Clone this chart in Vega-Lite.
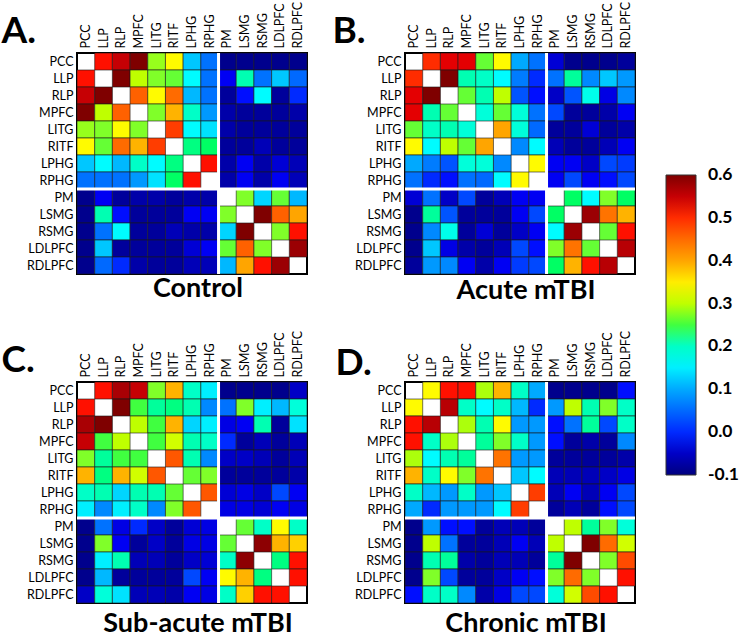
{
"$schema": "https://vega.github.io/schema/vega-lite/v6.json",
"padding": {"left": 0, "top": 0, "right": 0, "bottom": 0},
"background": "white",
"config": {
  "view": {"stroke": "black", "strokeWidth": 2},
  "axis": {"labelFont": "Lato", "labelFontSize": 12.5, "labelColor": "black", "ticks": false, "domain": false, "grid": false, "labelPadding": 4},
  "legend": {"gradientVerticalMaxLength": 300, "gradientVerticalMinLength": 300}
},
"spacing": {"column": 21, "row": 24},
"columns": 2,
"datasets": {
"m": [
{"p":"A","r":"PCC","c":"LLP","v":0.51},{"p":"A","r":"PCC","c":"RLP","v":0.55},{"p":"A","r":"PCC","c":"MPFC","v":0.6},{"p":"A","r":"PCC","c":"LITG","v":0.28},{"p":"A","r":"PCC","c":"RITF","v":0.34},{"p":"A","r":"PCC","c":"LPHG","v":0.12},{"p":"A","r":"PCC","c":"RPHG","v":0.06},{"p":"A","r":"PCC","c":"PM","v":-0.09},{"p":"A","r":"PCC","c":"LSMG","v":-0.09},{"p":"A","r":"PCC","c":"RSMG","v":-0.09},{"p":"A","r":"PCC","c":"LDLPFC","v":-0.09},{"p":"A","r":"PCC","c":"RDLPFC","v":-0.09},
{"p":"A","r":"LLP","c":"PCC","v":0.51},{"p":"A","r":"LLP","c":"RLP","v":0.6},{"p":"A","r":"LLP","c":"MPFC","v":0.3},{"p":"A","r":"LLP","c":"LITG","v":0.27},{"p":"A","r":"LLP","c":"RITF","v":0.26},{"p":"A","r":"LLP","c":"LPHG","v":0.16},{"p":"A","r":"LLP","c":"RPHG","v":0.06},{"p":"A","r":"LLP","c":"PM","v":-0.02},{"p":"A","r":"LLP","c":"LSMG","v":0.21},{"p":"A","r":"LLP","c":"RSMG","v":0.06},{"p":"A","r":"LLP","c":"LDLPFC","v":0.12},{"p":"A","r":"LLP","c":"RDLPFC","v":0.05},
{"p":"A","r":"RLP","c":"PCC","v":0.55},{"p":"A","r":"RLP","c":"LLP","v":0.6},{"p":"A","r":"RLP","c":"MPFC","v":0.46},{"p":"A","r":"RLP","c":"LITG","v":0.34},{"p":"A","r":"RLP","c":"RITF","v":0.45},{"p":"A","r":"RLP","c":"LPHG","v":0.11},{"p":"A","r":"RLP","c":"RPHG","v":0.06},{"p":"A","r":"RLP","c":"PM","v":-0.08},{"p":"A","r":"RLP","c":"LSMG","v":-0.01},{"p":"A","r":"RLP","c":"RSMG","v":0.16},{"p":"A","r":"RLP","c":"LDLPFC","v":-0.08},{"p":"A","r":"RLP","c":"RDLPFC","v":0.0},
{"p":"A","r":"MPFC","c":"PCC","v":0.6},{"p":"A","r":"MPFC","c":"LLP","v":0.3},{"p":"A","r":"MPFC","c":"RLP","v":0.46},{"p":"A","r":"MPFC","c":"LITG","v":0.27},{"p":"A","r":"MPFC","c":"RITF","v":0.39},{"p":"A","r":"MPFC","c":"LPHG","v":0.2},{"p":"A","r":"MPFC","c":"RPHG","v":0.09},{"p":"A","r":"MPFC","c":"PM","v":-0.07},{"p":"A","r":"MPFC","c":"LSMG","v":-0.08},{"p":"A","r":"MPFC","c":"RSMG","v":-0.08},{"p":"A","r":"MPFC","c":"LDLPFC","v":-0.08},{"p":"A","r":"MPFC","c":"RDLPFC","v":-0.07},
{"p":"A","r":"LITG","c":"PCC","v":0.28},{"p":"A","r":"LITG","c":"LLP","v":0.27},{"p":"A","r":"LITG","c":"RLP","v":0.34},{"p":"A","r":"LITG","c":"MPFC","v":0.27},{"p":"A","r":"LITG","c":"RITF","v":0.49},{"p":"A","r":"LITG","c":"LPHG","v":0.16},{"p":"A","r":"LITG","c":"RPHG","v":0.14},{"p":"A","r":"LITG","c":"PM","v":-0.07},{"p":"A","r":"LITG","c":"LSMG","v":-0.08},{"p":"A","r":"LITG","c":"RSMG","v":-0.08},{"p":"A","r":"LITG","c":"LDLPFC","v":-0.08},{"p":"A","r":"LITG","c":"RDLPFC","v":-0.08},
{"p":"A","r":"RITF","c":"PCC","v":0.34},{"p":"A","r":"RITF","c":"LLP","v":0.26},{"p":"A","r":"RITF","c":"RLP","v":0.45},{"p":"A","r":"RITF","c":"MPFC","v":0.39},{"p":"A","r":"RITF","c":"LITG","v":0.49},{"p":"A","r":"RITF","c":"LPHG","v":0.23},{"p":"A","r":"RITF","c":"RPHG","v":0.24},{"p":"A","r":"RITF","c":"PM","v":-0.08},{"p":"A","r":"RITF","c":"LSMG","v":-0.08},{"p":"A","r":"RITF","c":"RSMG","v":-0.06},{"p":"A","r":"RITF","c":"LDLPFC","v":-0.08},{"p":"A","r":"RITF","c":"RDLPFC","v":-0.08},
{"p":"A","r":"LPHG","c":"PCC","v":0.12},{"p":"A","r":"LPHG","c":"LLP","v":0.16},{"p":"A","r":"LPHG","c":"RLP","v":0.11},{"p":"A","r":"LPHG","c":"MPFC","v":0.2},{"p":"A","r":"LPHG","c":"LITG","v":0.16},{"p":"A","r":"LPHG","c":"RITF","v":0.23},{"p":"A","r":"LPHG","c":"RPHG","v":0.51},{"p":"A","r":"LPHG","c":"PM","v":-0.07},{"p":"A","r":"LPHG","c":"LSMG","v":-0.02},{"p":"A","r":"LPHG","c":"RSMG","v":-0.07},{"p":"A","r":"LPHG","c":"LDLPFC","v":-0.04},{"p":"A","r":"LPHG","c":"RDLPFC","v":-0.06},
{"p":"A","r":"RPHG","c":"PCC","v":0.06},{"p":"A","r":"RPHG","c":"LLP","v":0.06},{"p":"A","r":"RPHG","c":"RLP","v":0.06},{"p":"A","r":"RPHG","c":"MPFC","v":0.09},{"p":"A","r":"RPHG","c":"LITG","v":0.14},{"p":"A","r":"RPHG","c":"RITF","v":0.24},{"p":"A","r":"RPHG","c":"LPHG","v":0.51},{"p":"A","r":"RPHG","c":"PM","v":-0.07},{"p":"A","r":"RPHG","c":"LSMG","v":-0.02},{"p":"A","r":"RPHG","c":"RSMG","v":-0.07},{"p":"A","r":"RPHG","c":"LDLPFC","v":-0.02},{"p":"A","r":"RPHG","c":"RDLPFC","v":-0.06},
{"p":"A","r":"PM","c":"PCC","v":-0.09},{"p":"A","r":"PM","c":"LLP","v":-0.02},{"p":"A","r":"PM","c":"RLP","v":-0.08},{"p":"A","r":"PM","c":"MPFC","v":-0.07},{"p":"A","r":"PM","c":"LITG","v":-0.07},{"p":"A","r":"PM","c":"RITF","v":-0.08},{"p":"A","r":"PM","c":"LPHG","v":-0.07},{"p":"A","r":"PM","c":"RPHG","v":-0.07},{"p":"A","r":"PM","c":"LSMG","v":0.27},{"p":"A","r":"PM","c":"RSMG","v":0.13},{"p":"A","r":"PM","c":"LDLPFC","v":0.26},{"p":"A","r":"PM","c":"RDLPFC","v":0.11},
{"p":"A","r":"LSMG","c":"PCC","v":-0.09},{"p":"A","r":"LSMG","c":"LLP","v":0.21},{"p":"A","r":"LSMG","c":"RLP","v":-0.01},{"p":"A","r":"LSMG","c":"MPFC","v":-0.08},{"p":"A","r":"LSMG","c":"LITG","v":-0.08},{"p":"A","r":"LSMG","c":"RITF","v":-0.08},{"p":"A","r":"LSMG","c":"LPHG","v":-0.02},{"p":"A","r":"LSMG","c":"RPHG","v":-0.02},{"p":"A","r":"LSMG","c":"PM","v":0.27},{"p":"A","r":"LSMG","c":"RSMG","v":0.6},{"p":"A","r":"LSMG","c":"LDLPFC","v":0.46},{"p":"A","r":"LSMG","c":"RDLPFC","v":0.4},
{"p":"A","r":"RSMG","c":"PCC","v":-0.09},{"p":"A","r":"RSMG","c":"LLP","v":0.06},{"p":"A","r":"RSMG","c":"RLP","v":0.16},{"p":"A","r":"RSMG","c":"MPFC","v":-0.08},{"p":"A","r":"RSMG","c":"LITG","v":-0.08},{"p":"A","r":"RSMG","c":"RITF","v":-0.06},{"p":"A","r":"RSMG","c":"LPHG","v":-0.07},{"p":"A","r":"RSMG","c":"RPHG","v":-0.07},{"p":"A","r":"RSMG","c":"PM","v":0.13},{"p":"A","r":"RSMG","c":"LSMG","v":0.6},{"p":"A","r":"RSMG","c":"LDLPFC","v":0.27},{"p":"A","r":"RSMG","c":"RDLPFC","v":0.51},
{"p":"A","r":"LDLPFC","c":"PCC","v":-0.09},{"p":"A","r":"LDLPFC","c":"LLP","v":0.12},{"p":"A","r":"LDLPFC","c":"RLP","v":-0.08},{"p":"A","r":"LDLPFC","c":"MPFC","v":-0.08},{"p":"A","r":"LDLPFC","c":"LITG","v":-0.08},{"p":"A","r":"LDLPFC","c":"RITF","v":-0.08},{"p":"A","r":"LDLPFC","c":"LPHG","v":-0.04},{"p":"A","r":"LDLPFC","c":"RPHG","v":-0.02},{"p":"A","r":"LDLPFC","c":"PM","v":0.26},{"p":"A","r":"LDLPFC","c":"LSMG","v":0.46},{"p":"A","r":"LDLPFC","c":"RSMG","v":0.27},{"p":"A","r":"LDLPFC","c":"RDLPFC","v":0.58},
{"p":"A","r":"RDLPFC","c":"PCC","v":-0.09},{"p":"A","r":"RDLPFC","c":"LLP","v":0.05},{"p":"A","r":"RDLPFC","c":"RLP","v":0.0},{"p":"A","r":"RDLPFC","c":"MPFC","v":-0.07},{"p":"A","r":"RDLPFC","c":"LITG","v":-0.08},{"p":"A","r":"RDLPFC","c":"RITF","v":-0.08},{"p":"A","r":"RDLPFC","c":"LPHG","v":-0.06},{"p":"A","r":"RDLPFC","c":"RPHG","v":-0.06},{"p":"A","r":"RDLPFC","c":"PM","v":0.11},{"p":"A","r":"RDLPFC","c":"LSMG","v":0.4},{"p":"A","r":"RDLPFC","c":"RSMG","v":0.51},{"p":"A","r":"RDLPFC","c":"LDLPFC","v":0.58},

{"p":"B","r":"PCC","c":"LLP","v":0.5},{"p":"B","r":"PCC","c":"RLP","v":0.53},{"p":"B","r":"PCC","c":"MPFC","v":0.53},{"p":"B","r":"PCC","c":"LITG","v":0.26},{"p":"B","r":"PCC","c":"RITF","v":0.34},{"p":"B","r":"PCC","c":"LPHG","v":0.1},{"p":"B","r":"PCC","c":"RPHG","v":0.06},{"p":"B","r":"PCC","c":"PM","v":-0.04},{"p":"B","r":"PCC","c":"LSMG","v":-0.09},{"p":"B","r":"PCC","c":"RSMG","v":-0.09},{"p":"B","r":"PCC","c":"LDLPFC","v":-0.09},{"p":"B","r":"PCC","c":"RDLPFC","v":-0.08},
{"p":"B","r":"LLP","c":"PCC","v":0.5},{"p":"B","r":"LLP","c":"RLP","v":0.6},{"p":"B","r":"LLP","c":"MPFC","v":0.21},{"p":"B","r":"LLP","c":"LITG","v":0.2},{"p":"B","r":"LLP","c":"RITF","v":0.16},{"p":"B","r":"LLP","c":"LPHG","v":0.07},{"p":"B","r":"LLP","c":"RPHG","v":0.0},{"p":"B","r":"LLP","c":"PM","v":0.06},{"p":"B","r":"LLP","c":"LSMG","v":0.22},{"p":"B","r":"LLP","c":"RSMG","v":0.08},{"p":"B","r":"LLP","c":"LDLPFC","v":0.12},{"p":"B","r":"LLP","c":"RDLPFC","v":0.09},
{"p":"B","r":"RLP","c":"PCC","v":0.53},{"p":"B","r":"RLP","c":"LLP","v":0.6},{"p":"B","r":"RLP","c":"MPFC","v":0.26},{"p":"B","r":"RLP","c":"LITG","v":0.21},{"p":"B","r":"RLP","c":"RITF","v":0.3},{"p":"B","r":"RLP","c":"LPHG","v":0.03},{"p":"B","r":"RLP","c":"RPHG","v":-0.01},{"p":"B","r":"RLP","c":"PM","v":-0.05},{"p":"B","r":"RLP","c":"LSMG","v":0.03},{"p":"B","r":"RLP","c":"RSMG","v":0.18},{"p":"B","r":"RLP","c":"LDLPFC","v":-0.03},{"p":"B","r":"RLP","c":"RDLPFC","v":0.08},
{"p":"B","r":"MPFC","c":"PCC","v":0.53},{"p":"B","r":"MPFC","c":"LLP","v":0.21},{"p":"B","r":"MPFC","c":"RLP","v":0.26},{"p":"B","r":"MPFC","c":"LITG","v":0.19},{"p":"B","r":"MPFC","c":"RITF","v":0.26},{"p":"B","r":"MPFC","c":"LPHG","v":0.19},{"p":"B","r":"MPFC","c":"RPHG","v":0.06},{"p":"B","r":"MPFC","c":"PM","v":0.02},{"p":"B","r":"MPFC","c":"LSMG","v":-0.08},{"p":"B","r":"MPFC","c":"RSMG","v":-0.08},{"p":"B","r":"MPFC","c":"LDLPFC","v":-0.07},{"p":"B","r":"MPFC","c":"RDLPFC","v":-0.02},
{"p":"B","r":"LITG","c":"PCC","v":0.26},{"p":"B","r":"LITG","c":"LLP","v":0.2},{"p":"B","r":"LITG","c":"RLP","v":0.21},{"p":"B","r":"LITG","c":"MPFC","v":0.19},{"p":"B","r":"LITG","c":"RITF","v":0.4},{"p":"B","r":"LITG","c":"LPHG","v":0.19},{"p":"B","r":"LITG","c":"RPHG","v":0.05},{"p":"B","r":"LITG","c":"PM","v":-0.08},{"p":"B","r":"LITG","c":"LSMG","v":-0.08},{"p":"B","r":"LITG","c":"RSMG","v":-0.04},{"p":"B","r":"LITG","c":"LDLPFC","v":-0.08},{"p":"B","r":"LITG","c":"RDLPFC","v":-0.07},
{"p":"B","r":"RITF","c":"PCC","v":0.34},{"p":"B","r":"RITF","c":"LLP","v":0.16},{"p":"B","r":"RITF","c":"RLP","v":0.3},{"p":"B","r":"RITF","c":"MPFC","v":0.26},{"p":"B","r":"RITF","c":"LITG","v":0.4},{"p":"B","r":"RITF","c":"LPHG","v":0.08},{"p":"B","r":"RITF","c":"RPHG","v":0.16},{"p":"B","r":"RITF","c":"PM","v":-0.06},{"p":"B","r":"RITF","c":"LSMG","v":-0.08},{"p":"B","r":"RITF","c":"RSMG","v":-0.08},{"p":"B","r":"RITF","c":"LDLPFC","v":-0.06},{"p":"B","r":"RITF","c":"RDLPFC","v":-0.02},
{"p":"B","r":"LPHG","c":"PCC","v":0.1},{"p":"B","r":"LPHG","c":"LLP","v":0.07},{"p":"B","r":"LPHG","c":"RLP","v":0.03},{"p":"B","r":"LPHG","c":"MPFC","v":0.19},{"p":"B","r":"LPHG","c":"LITG","v":0.19},{"p":"B","r":"LPHG","c":"RITF","v":0.08},{"p":"B","r":"LPHG","c":"RPHG","v":0.34},{"p":"B","r":"LPHG","c":"PM","v":-0.02},{"p":"B","r":"LPHG","c":"LSMG","v":-0.02},{"p":"B","r":"LPHG","c":"RSMG","v":-0.05},{"p":"B","r":"LPHG","c":"LDLPFC","v":0.02},{"p":"B","r":"LPHG","c":"RDLPFC","v":0.01},
{"p":"B","r":"RPHG","c":"PCC","v":0.06},{"p":"B","r":"RPHG","c":"LLP","v":0.0},{"p":"B","r":"RPHG","c":"RLP","v":-0.01},{"p":"B","r":"RPHG","c":"MPFC","v":0.06},{"p":"B","r":"RPHG","c":"LITG","v":0.05},{"p":"B","r":"RPHG","c":"RITF","v":0.16},{"p":"B","r":"RPHG","c":"LPHG","v":0.34},{"p":"B","r":"RPHG","c":"PM","v":-0.02},{"p":"B","r":"RPHG","c":"LSMG","v":0.02},{"p":"B","r":"RPHG","c":"RSMG","v":-0.02},{"p":"B","r":"RPHG","c":"LDLPFC","v":-0.01},{"p":"B","r":"RPHG","c":"RDLPFC","v":0.02},
{"p":"B","r":"PM","c":"PCC","v":-0.04},{"p":"B","r":"PM","c":"LLP","v":0.06},{"p":"B","r":"PM","c":"RLP","v":-0.05},{"p":"B","r":"PM","c":"MPFC","v":0.02},{"p":"B","r":"PM","c":"LITG","v":-0.08},{"p":"B","r":"PM","c":"RITF","v":-0.06},{"p":"B","r":"PM","c":"LPHG","v":-0.02},{"p":"B","r":"PM","c":"RPHG","v":-0.02},{"p":"B","r":"PM","c":"LSMG","v":0.24},{"p":"B","r":"PM","c":"RSMG","v":0.16},{"p":"B","r":"PM","c":"LDLPFC","v":0.27},{"p":"B","r":"PM","c":"RDLPFC","v":0.24},
{"p":"B","r":"LSMG","c":"PCC","v":-0.09},{"p":"B","r":"LSMG","c":"LLP","v":0.22},{"p":"B","r":"LSMG","c":"RLP","v":0.03},{"p":"B","r":"LSMG","c":"MPFC","v":-0.08},{"p":"B","r":"LSMG","c":"LITG","v":-0.08},{"p":"B","r":"LSMG","c":"RITF","v":-0.08},{"p":"B","r":"LSMG","c":"LPHG","v":-0.02},{"p":"B","r":"LSMG","c":"RPHG","v":0.02},{"p":"B","r":"LSMG","c":"PM","v":0.24},{"p":"B","r":"LSMG","c":"RSMG","v":0.58},{"p":"B","r":"LSMG","c":"LDLPFC","v":0.44},{"p":"B","r":"LSMG","c":"RDLPFC","v":0.39},
{"p":"B","r":"RSMG","c":"PCC","v":-0.09},{"p":"B","r":"RSMG","c":"LLP","v":0.08},{"p":"B","r":"RSMG","c":"RLP","v":0.18},{"p":"B","r":"RSMG","c":"MPFC","v":-0.08},{"p":"B","r":"RSMG","c":"LITG","v":-0.04},{"p":"B","r":"RSMG","c":"RITF","v":-0.08},{"p":"B","r":"RSMG","c":"LPHG","v":-0.05},{"p":"B","r":"RSMG","c":"RPHG","v":-0.02},{"p":"B","r":"RSMG","c":"PM","v":0.16},{"p":"B","r":"RSMG","c":"LSMG","v":0.58},{"p":"B","r":"RSMG","c":"LDLPFC","v":0.26},{"p":"B","r":"RSMG","c":"RDLPFC","v":0.51},
{"p":"B","r":"LDLPFC","c":"PCC","v":-0.09},{"p":"B","r":"LDLPFC","c":"LLP","v":0.12},{"p":"B","r":"LDLPFC","c":"RLP","v":-0.03},{"p":"B","r":"LDLPFC","c":"MPFC","v":-0.07},{"p":"B","r":"LDLPFC","c":"LITG","v":-0.08},{"p":"B","r":"LDLPFC","c":"RITF","v":-0.06},{"p":"B","r":"LDLPFC","c":"LPHG","v":0.02},{"p":"B","r":"LDLPFC","c":"RPHG","v":-0.01},{"p":"B","r":"LDLPFC","c":"PM","v":0.27},{"p":"B","r":"LDLPFC","c":"LSMG","v":0.44},{"p":"B","r":"LDLPFC","c":"RSMG","v":0.26},{"p":"B","r":"LDLPFC","c":"RDLPFC","v":0.56},
{"p":"B","r":"RDLPFC","c":"PCC","v":-0.08},{"p":"B","r":"RDLPFC","c":"LLP","v":0.09},{"p":"B","r":"RDLPFC","c":"RLP","v":0.08},{"p":"B","r":"RDLPFC","c":"MPFC","v":-0.02},{"p":"B","r":"RDLPFC","c":"LITG","v":-0.07},{"p":"B","r":"RDLPFC","c":"RITF","v":-0.02},{"p":"B","r":"RDLPFC","c":"LPHG","v":0.01},{"p":"B","r":"RDLPFC","c":"RPHG","v":0.02},{"p":"B","r":"RDLPFC","c":"PM","v":0.24},{"p":"B","r":"RDLPFC","c":"LSMG","v":0.39},{"p":"B","r":"RDLPFC","c":"RSMG","v":0.51},{"p":"B","r":"RDLPFC","c":"LDLPFC","v":0.56},

{"p":"C","r":"PCC","c":"LLP","v":0.51},{"p":"C","r":"PCC","c":"RLP","v":0.57},{"p":"C","r":"PCC","c":"MPFC","v":0.55},{"p":"C","r":"PCC","c":"LITG","v":0.27},{"p":"C","r":"PCC","c":"RITF","v":0.39},{"p":"C","r":"PCC","c":"LPHG","v":0.2},{"p":"C","r":"PCC","c":"RPHG","v":0.15},{"p":"C","r":"PCC","c":"PM","v":-0.09},{"p":"C","r":"PCC","c":"LSMG","v":-0.09},{"p":"C","r":"PCC","c":"RSMG","v":-0.09},{"p":"C","r":"PCC","c":"LDLPFC","v":-0.09},{"p":"C","r":"PCC","c":"RDLPFC","v":-0.05},
{"p":"C","r":"LLP","c":"PCC","v":0.51},{"p":"C","r":"LLP","c":"RLP","v":0.6},{"p":"C","r":"LLP","c":"MPFC","v":0.25},{"p":"C","r":"LLP","c":"LITG","v":0.22},{"p":"C","r":"LLP","c":"RITF","v":0.23},{"p":"C","r":"LLP","c":"LPHG","v":0.21},{"p":"C","r":"LLP","c":"RPHG","v":0.08},{"p":"C","r":"LLP","c":"PM","v":0.06},{"p":"C","r":"LLP","c":"LSMG","v":0.27},{"p":"C","r":"LLP","c":"RSMG","v":0.15},{"p":"C","r":"LLP","c":"LDLPFC","v":0.11},{"p":"C","r":"LLP","c":"RDLPFC","v":0.19},
{"p":"C","r":"RLP","c":"PCC","v":0.57},{"p":"C","r":"RLP","c":"LLP","v":0.6},{"p":"C","r":"RLP","c":"MPFC","v":0.3},{"p":"C","r":"RLP","c":"LITG","v":0.25},{"p":"C","r":"RLP","c":"RITF","v":0.39},{"p":"C","r":"RLP","c":"LPHG","v":0.13},{"p":"C","r":"RLP","c":"RPHG","v":0.15},{"p":"C","r":"RLP","c":"PM","v":-0.03},{"p":"C","r":"RLP","c":"LSMG","v":-0.02},{"p":"C","r":"RLP","c":"RSMG","v":0.21},{"p":"C","r":"RLP","c":"LDLPFC","v":-0.08},{"p":"C","r":"RLP","c":"RDLPFC","v":0.14},
{"p":"C","r":"MPFC","c":"PCC","v":0.55},{"p":"C","r":"MPFC","c":"LLP","v":0.25},{"p":"C","r":"MPFC","c":"RLP","v":0.3},{"p":"C","r":"MPFC","c":"LITG","v":0.25},{"p":"C","r":"MPFC","c":"RITF","v":0.31},{"p":"C","r":"MPFC","c":"LPHG","v":0.21},{"p":"C","r":"MPFC","c":"RPHG","v":0.2},{"p":"C","r":"MPFC","c":"PM","v":0.0},{"p":"C","r":"MPFC","c":"LSMG","v":-0.08},{"p":"C","r":"MPFC","c":"RSMG","v":-0.06},{"p":"C","r":"MPFC","c":"LDLPFC","v":-0.08},{"p":"C","r":"MPFC","c":"RDLPFC","v":-0.06},
{"p":"C","r":"LITG","c":"PCC","v":0.27},{"p":"C","r":"LITG","c":"LLP","v":0.22},{"p":"C","r":"LITG","c":"RLP","v":0.25},{"p":"C","r":"LITG","c":"MPFC","v":0.25},{"p":"C","r":"LITG","c":"RITF","v":0.47},{"p":"C","r":"LITG","c":"LPHG","v":0.21},{"p":"C","r":"LITG","c":"RPHG","v":0.08},{"p":"C","r":"LITG","c":"PM","v":-0.05},{"p":"C","r":"LITG","c":"LSMG","v":-0.05},{"p":"C","r":"LITG","c":"RSMG","v":-0.06},{"p":"C","r":"LITG","c":"LDLPFC","v":-0.08},{"p":"C","r":"LITG","c":"RDLPFC","v":-0.06},
{"p":"C","r":"RITF","c":"PCC","v":0.39},{"p":"C","r":"RITF","c":"LLP","v":0.23},{"p":"C","r":"RITF","c":"RLP","v":0.39},{"p":"C","r":"RITF","c":"MPFC","v":0.31},{"p":"C","r":"RITF","c":"LITG","v":0.47},{"p":"C","r":"RITF","c":"LPHG","v":0.26},{"p":"C","r":"RITF","c":"RPHG","v":0.27},{"p":"C","r":"RITF","c":"PM","v":-0.08},{"p":"C","r":"RITF","c":"LSMG","v":-0.08},{"p":"C","r":"RITF","c":"RSMG","v":-0.08},{"p":"C","r":"RITF","c":"LDLPFC","v":-0.08},{"p":"C","r":"RITF","c":"RDLPFC","v":-0.07},
{"p":"C","r":"LPHG","c":"PCC","v":0.2},{"p":"C","r":"LPHG","c":"LLP","v":0.21},{"p":"C","r":"LPHG","c":"RLP","v":0.13},{"p":"C","r":"LPHG","c":"MPFC","v":0.21},{"p":"C","r":"LPHG","c":"LITG","v":0.21},{"p":"C","r":"LPHG","c":"RITF","v":0.26},{"p":"C","r":"LPHG","c":"RPHG","v":0.47},{"p":"C","r":"LPHG","c":"PM","v":-0.04},{"p":"C","r":"LPHG","c":"LSMG","v":-0.03},{"p":"C","r":"LPHG","c":"RSMG","v":-0.05},{"p":"C","r":"LPHG","c":"LDLPFC","v":0.02},{"p":"C","r":"LPHG","c":"RDLPFC","v":-0.02},
{"p":"C","r":"RPHG","c":"PCC","v":0.15},{"p":"C","r":"RPHG","c":"LLP","v":0.08},{"p":"C","r":"RPHG","c":"RLP","v":0.15},{"p":"C","r":"RPHG","c":"MPFC","v":0.2},{"p":"C","r":"RPHG","c":"LITG","v":0.08},{"p":"C","r":"RPHG","c":"RITF","v":0.27},{"p":"C","r":"RPHG","c":"LPHG","v":0.47},{"p":"C","r":"RPHG","c":"PM","v":-0.03},{"p":"C","r":"RPHG","c":"LSMG","v":-0.03},{"p":"C","r":"RPHG","c":"RSMG","v":-0.04},{"p":"C","r":"RPHG","c":"LDLPFC","v":-0.02},{"p":"C","r":"RPHG","c":"RDLPFC","v":-0.03},
{"p":"C","r":"PM","c":"PCC","v":-0.09},{"p":"C","r":"PM","c":"LLP","v":0.06},{"p":"C","r":"PM","c":"RLP","v":-0.03},{"p":"C","r":"PM","c":"MPFC","v":0.0},{"p":"C","r":"PM","c":"LITG","v":-0.05},{"p":"C","r":"PM","c":"RITF","v":-0.08},{"p":"C","r":"PM","c":"LPHG","v":-0.04},{"p":"C","r":"PM","c":"RPHG","v":-0.03},{"p":"C","r":"PM","c":"LSMG","v":0.26},{"p":"C","r":"PM","c":"RSMG","v":0.2},{"p":"C","r":"PM","c":"LDLPFC","v":0.34},{"p":"C","r":"PM","c":"RDLPFC","v":0.2},
{"p":"C","r":"LSMG","c":"PCC","v":-0.09},{"p":"C","r":"LSMG","c":"LLP","v":0.27},{"p":"C","r":"LSMG","c":"RLP","v":-0.02},{"p":"C","r":"LSMG","c":"MPFC","v":-0.08},{"p":"C","r":"LSMG","c":"LITG","v":-0.05},{"p":"C","r":"LSMG","c":"RITF","v":-0.08},{"p":"C","r":"LSMG","c":"LPHG","v":-0.03},{"p":"C","r":"LSMG","c":"RPHG","v":-0.03},{"p":"C","r":"LSMG","c":"PM","v":0.26},{"p":"C","r":"LSMG","c":"RSMG","v":0.59},{"p":"C","r":"LSMG","c":"LDLPFC","v":0.39},{"p":"C","r":"LSMG","c":"RDLPFC","v":0.37},
{"p":"C","r":"RSMG","c":"PCC","v":-0.09},{"p":"C","r":"RSMG","c":"LLP","v":0.15},{"p":"C","r":"RSMG","c":"RLP","v":0.21},{"p":"C","r":"RSMG","c":"MPFC","v":-0.06},{"p":"C","r":"RSMG","c":"LITG","v":-0.06},{"p":"C","r":"RSMG","c":"RITF","v":-0.08},{"p":"C","r":"RSMG","c":"LPHG","v":-0.05},{"p":"C","r":"RSMG","c":"RPHG","v":-0.04},{"p":"C","r":"RSMG","c":"PM","v":0.2},{"p":"C","r":"RSMG","c":"LSMG","v":0.59},{"p":"C","r":"RSMG","c":"LDLPFC","v":0.23},{"p":"C","r":"RSMG","c":"RDLPFC","v":0.51},
{"p":"C","r":"LDLPFC","c":"PCC","v":-0.09},{"p":"C","r":"LDLPFC","c":"LLP","v":0.11},{"p":"C","r":"LDLPFC","c":"RLP","v":-0.08},{"p":"C","r":"LDLPFC","c":"MPFC","v":-0.08},{"p":"C","r":"LDLPFC","c":"LITG","v":-0.08},{"p":"C","r":"LDLPFC","c":"RITF","v":-0.08},{"p":"C","r":"LDLPFC","c":"LPHG","v":0.02},{"p":"C","r":"LDLPFC","c":"RPHG","v":-0.02},{"p":"C","r":"LDLPFC","c":"PM","v":0.34},{"p":"C","r":"LDLPFC","c":"LSMG","v":0.39},{"p":"C","r":"LDLPFC","c":"RSMG","v":0.23},{"p":"C","r":"LDLPFC","c":"RDLPFC","v":0.51},
{"p":"C","r":"RDLPFC","c":"PCC","v":-0.05},{"p":"C","r":"RDLPFC","c":"LLP","v":0.19},{"p":"C","r":"RDLPFC","c":"RLP","v":0.14},{"p":"C","r":"RDLPFC","c":"MPFC","v":-0.06},{"p":"C","r":"RDLPFC","c":"LITG","v":-0.06},{"p":"C","r":"RDLPFC","c":"RITF","v":-0.07},{"p":"C","r":"RDLPFC","c":"LPHG","v":-0.02},{"p":"C","r":"RDLPFC","c":"RPHG","v":-0.03},{"p":"C","r":"RDLPFC","c":"PM","v":0.2},{"p":"C","r":"RDLPFC","c":"LSMG","v":0.37},{"p":"C","r":"RDLPFC","c":"RSMG","v":0.51},{"p":"C","r":"RDLPFC","c":"LDLPFC","v":0.51},

{"p":"D","r":"PCC","c":"LLP","v":0.34},{"p":"D","r":"PCC","c":"RLP","v":0.51},{"p":"D","r":"PCC","c":"MPFC","v":0.51},{"p":"D","r":"PCC","c":"LITG","v":0.29},{"p":"D","r":"PCC","c":"RITF","v":0.39},{"p":"D","r":"PCC","c":"LPHG","v":0.2},{"p":"D","r":"PCC","c":"RPHG","v":0.1},{"p":"D","r":"PCC","c":"PM","v":-0.09},{"p":"D","r":"PCC","c":"LSMG","v":-0.09},{"p":"D","r":"PCC","c":"RSMG","v":-0.09},{"p":"D","r":"PCC","c":"LDLPFC","v":-0.09},{"p":"D","r":"PCC","c":"RDLPFC","v":-0.01},
{"p":"D","r":"LLP","c":"PCC","v":0.34},{"p":"D","r":"LLP","c":"RLP","v":0.56},{"p":"D","r":"LLP","c":"MPFC","v":0.2},{"p":"D","r":"LLP","c":"LITG","v":0.16},{"p":"D","r":"LLP","c":"RITF","v":0.2},{"p":"D","r":"LLP","c":"LPHG","v":0.11},{"p":"D","r":"LLP","c":"RPHG","v":0.0},{"p":"D","r":"LLP","c":"PM","v":0.09},{"p":"D","r":"LLP","c":"LSMG","v":0.3},{"p":"D","r":"LLP","c":"RSMG","v":0.21},{"p":"D","r":"LLP","c":"LDLPFC","v":0.27},{"p":"D","r":"LLP","c":"RDLPFC","v":0.2},
{"p":"D","r":"RLP","c":"PCC","v":0.51},{"p":"D","r":"RLP","c":"LLP","v":0.56},{"p":"D","r":"RLP","c":"MPFC","v":0.29},{"p":"D","r":"RLP","c":"LITG","v":0.21},{"p":"D","r":"RLP","c":"RITF","v":0.34},{"p":"D","r":"RLP","c":"LPHG","v":0.09},{"p":"D","r":"RLP","c":"RPHG","v":0.09},{"p":"D","r":"RLP","c":"PM","v":-0.01},{"p":"D","r":"RLP","c":"LSMG","v":0.06},{"p":"D","r":"RLP","c":"RSMG","v":0.22},{"p":"D","r":"RLP","c":"LDLPFC","v":0.02},{"p":"D","r":"RLP","c":"RDLPFC","v":0.2},
{"p":"D","r":"MPFC","c":"PCC","v":0.51},{"p":"D","r":"MPFC","c":"LLP","v":0.2},{"p":"D","r":"MPFC","c":"RLP","v":0.29},{"p":"D","r":"MPFC","c":"LITG","v":0.22},{"p":"D","r":"MPFC","c":"RITF","v":0.27},{"p":"D","r":"MPFC","c":"LPHG","v":0.2},{"p":"D","r":"MPFC","c":"RPHG","v":0.09},{"p":"D","r":"MPFC","c":"PM","v":-0.01},{"p":"D","r":"MPFC","c":"LSMG","v":-0.08},{"p":"D","r":"MPFC","c":"RSMG","v":-0.07},{"p":"D","r":"MPFC","c":"LDLPFC","v":-0.08},{"p":"D","r":"MPFC","c":"RDLPFC","v":0.08},
{"p":"D","r":"LITG","c":"PCC","v":0.29},{"p":"D","r":"LITG","c":"LLP","v":0.16},{"p":"D","r":"LITG","c":"RLP","v":0.21},{"p":"D","r":"LITG","c":"MPFC","v":0.22},{"p":"D","r":"LITG","c":"RITF","v":0.44},{"p":"D","r":"LITG","c":"LPHG","v":0.09},{"p":"D","r":"LITG","c":"RPHG","v":0.09},{"p":"D","r":"LITG","c":"PM","v":-0.08},{"p":"D","r":"LITG","c":"LSMG","v":-0.08},{"p":"D","r":"LITG","c":"RSMG","v":-0.08},{"p":"D","r":"LITG","c":"LDLPFC","v":-0.08},{"p":"D","r":"LITG","c":"RDLPFC","v":-0.07},
{"p":"D","r":"RITF","c":"PCC","v":0.39},{"p":"D","r":"RITF","c":"LLP","v":0.2},{"p":"D","r":"RITF","c":"RLP","v":0.34},{"p":"D","r":"RITF","c":"MPFC","v":0.27},{"p":"D","r":"RITF","c":"LITG","v":0.44},{"p":"D","r":"RITF","c":"LPHG","v":0.12},{"p":"D","r":"RITF","c":"RPHG","v":0.16},{"p":"D","r":"RITF","c":"PM","v":-0.06},{"p":"D","r":"RITF","c":"LSMG","v":-0.06},{"p":"D","r":"RITF","c":"RSMG","v":-0.06},{"p":"D","r":"RITF","c":"LDLPFC","v":-0.05},{"p":"D","r":"RITF","c":"RDLPFC","v":-0.03},
{"p":"D","r":"LPHG","c":"PCC","v":0.2},{"p":"D","r":"LPHG","c":"LLP","v":0.11},{"p":"D","r":"LPHG","c":"RLP","v":0.09},{"p":"D","r":"LPHG","c":"MPFC","v":0.2},{"p":"D","r":"LPHG","c":"LITG","v":0.09},{"p":"D","r":"LPHG","c":"RITF","v":0.12},{"p":"D","r":"LPHG","c":"RPHG","v":0.49},{"p":"D","r":"LPHG","c":"PM","v":-0.06},{"p":"D","r":"LPHG","c":"LSMG","v":-0.02},{"p":"D","r":"LPHG","c":"RSMG","v":-0.06},{"p":"D","r":"LPHG","c":"LDLPFC","v":-0.02},{"p":"D","r":"LPHG","c":"RDLPFC","v":0.02},
{"p":"D","r":"RPHG","c":"PCC","v":0.1},{"p":"D","r":"RPHG","c":"LLP","v":0.0},{"p":"D","r":"RPHG","c":"RLP","v":0.09},{"p":"D","r":"RPHG","c":"MPFC","v":0.09},{"p":"D","r":"RPHG","c":"LITG","v":0.09},{"p":"D","r":"RPHG","c":"RITF","v":0.16},{"p":"D","r":"RPHG","c":"LPHG","v":0.49},{"p":"D","r":"RPHG","c":"PM","v":-0.08},{"p":"D","r":"RPHG","c":"LSMG","v":-0.06},{"p":"D","r":"RPHG","c":"RSMG","v":-0.08},{"p":"D","r":"RPHG","c":"LDLPFC","v":-0.01},{"p":"D","r":"RPHG","c":"RDLPFC","v":0.02},
{"p":"D","r":"PM","c":"PCC","v":-0.09},{"p":"D","r":"PM","c":"LLP","v":0.09},{"p":"D","r":"PM","c":"RLP","v":-0.01},{"p":"D","r":"PM","c":"MPFC","v":-0.01},{"p":"D","r":"PM","c":"LITG","v":-0.08},{"p":"D","r":"PM","c":"RITF","v":-0.06},{"p":"D","r":"PM","c":"LPHG","v":-0.06},{"p":"D","r":"PM","c":"RPHG","v":-0.08},{"p":"D","r":"PM","c":"LSMG","v":0.3},{"p":"D","r":"PM","c":"RSMG","v":0.22},{"p":"D","r":"PM","c":"LDLPFC","v":0.27},{"p":"D","r":"PM","c":"RDLPFC","v":0.19},
{"p":"D","r":"LSMG","c":"PCC","v":-0.09},{"p":"D","r":"LSMG","c":"LLP","v":0.3},{"p":"D","r":"LSMG","c":"RLP","v":0.06},{"p":"D","r":"LSMG","c":"MPFC","v":-0.08},{"p":"D","r":"LSMG","c":"LITG","v":-0.08},{"p":"D","r":"LSMG","c":"RITF","v":-0.06},{"p":"D","r":"LSMG","c":"LPHG","v":-0.02},{"p":"D","r":"LSMG","c":"RPHG","v":-0.06},{"p":"D","r":"LSMG","c":"PM","v":0.3},{"p":"D","r":"LSMG","c":"RSMG","v":0.6},{"p":"D","r":"LSMG","c":"LDLPFC","v":0.45},{"p":"D","r":"LSMG","c":"RDLPFC","v":0.31},
{"p":"D","r":"RSMG","c":"PCC","v":-0.09},{"p":"D","r":"RSMG","c":"LLP","v":0.21},{"p":"D","r":"RSMG","c":"RLP","v":0.22},{"p":"D","r":"RSMG","c":"MPFC","v":-0.07},{"p":"D","r":"RSMG","c":"LITG","v":-0.08},{"p":"D","r":"RSMG","c":"RITF","v":-0.06},{"p":"D","r":"RSMG","c":"LPHG","v":-0.06},{"p":"D","r":"RSMG","c":"RPHG","v":-0.08},{"p":"D","r":"RSMG","c":"PM","v":0.22},{"p":"D","r":"RSMG","c":"LSMG","v":0.6},{"p":"D","r":"RSMG","c":"LDLPFC","v":0.27},{"p":"D","r":"RSMG","c":"RDLPFC","v":0.48},
{"p":"D","r":"LDLPFC","c":"PCC","v":-0.09},{"p":"D","r":"LDLPFC","c":"LLP","v":0.27},{"p":"D","r":"LDLPFC","c":"RLP","v":0.02},{"p":"D","r":"LDLPFC","c":"MPFC","v":-0.08},{"p":"D","r":"LDLPFC","c":"LITG","v":-0.08},{"p":"D","r":"LDLPFC","c":"RITF","v":-0.05},{"p":"D","r":"LDLPFC","c":"LPHG","v":-0.02},{"p":"D","r":"LDLPFC","c":"RPHG","v":-0.01},{"p":"D","r":"LDLPFC","c":"PM","v":0.27},{"p":"D","r":"LDLPFC","c":"LSMG","v":0.45},{"p":"D","r":"LDLPFC","c":"RSMG","v":0.27},{"p":"D","r":"LDLPFC","c":"RDLPFC","v":0.51},
{"p":"D","r":"RDLPFC","c":"PCC","v":-0.01},{"p":"D","r":"RDLPFC","c":"LLP","v":0.2},{"p":"D","r":"RDLPFC","c":"RLP","v":0.2},{"p":"D","r":"RDLPFC","c":"MPFC","v":0.08},{"p":"D","r":"RDLPFC","c":"LITG","v":-0.07},{"p":"D","r":"RDLPFC","c":"RITF","v":-0.03},{"p":"D","r":"RDLPFC","c":"LPHG","v":0.02},{"p":"D","r":"RDLPFC","c":"RPHG","v":0.02},{"p":"D","r":"RDLPFC","c":"PM","v":0.19},{"p":"D","r":"RDLPFC","c":"LSMG","v":0.31},{"p":"D","r":"RDLPFC","c":"RSMG","v":0.48},{"p":"D","r":"RDLPFC","c":"LDLPFC","v":0.51}
],
"sep": [{"b": "PM"}]
},
"concat": [
{
  "width": 230, "height": 221,
  "title": {"text": "Control", "orient": "bottom", "frame": "group", "dx": 6, "offset": 0, "font": "Lato", "fontSize": 27, "fontWeight": "bold", "color": "black"},
  "layer": [
    {"data": {"name": "m"}, "transform": [{"filter": "datum.p == 'A'"}],
     "mark": {"type": "rect", "stroke": "#1a1a1a", "strokeWidth": 0.6},
     "encoding": {
       "x": {"field": "c", "type": "nominal", "scale": {"domain": ["PCC","LLP","RLP","MPFC","LITG","RITF","LPHG","RPHG","PM","LSMG","RSMG","LDLPFC","RDLPFC"], "paddingInner": 0, "paddingOuter": 0},
             "axis": {"orient": "top", "labelAngle": -90, "labelPadding": 5, "title": "A.", "titleX": -76, "titleY": -11, "titleAngle": 0, "titleAlign": "left", "titleBaseline": "alphabetic", "titleFont": "Lato", "titleFontSize": 37, "titleFontWeight": "bold", "titleColor": "black"}},
       "y": {"field": "r", "type": "nominal", "scale": {"domain": ["PCC","LLP","RLP","MPFC","LITG","RITF","LPHG","RPHG","PM","LSMG","RSMG","LDLPFC","RDLPFC"], "paddingInner": 0, "paddingOuter": 0}, "axis": {"title": null}},
       "color": {"field": "v", "type": "quantitative",
         "scale": {"domain": [-0.1, -0.0125, 0.075, 0.1625, 0.25, 0.3375, 0.425, 0.5125, 0.6], "range": ["#00007f","#0000ff","#0080ff","#00ffff","#40ff40","#ffff00","#ff8000","#ff0000","#7f0000"]},
         "legend": {"title": null, "orient": "none", "legendX": 589, "legendY": 122, "direction": "vertical", "gradientLength": 300, "gradientThickness": 30, "gradientStrokeColor": "#333", "gradientStrokeWidth": 1, "values": [-0.0996, 0, 0.1, 0.2, 0.3, 0.4, 0.5, 0.5996], "format": ".1f", "labelExpr": "replace(datum.label, '\u2212', '-')", "labelFont": "Lato", "labelFontSize": 17.5, "labelFontWeight": "bold", "labelColor": "black", "labelOffset": 12}}
     }},
    {"data": {"name": "sep"}, "mark": {"type": "rule", "color": "white", "strokeWidth": 3},
     "encoding": {"x": {"field": "b", "type": "nominal", "bandPosition": 0}}},
    {"data": {"name": "sep"}, "mark": {"type": "rule", "color": "white", "strokeWidth": 3},
     "encoding": {"y": {"field": "b", "type": "nominal", "bandPosition": 0}}}
  ]
},
{
  "width": 230, "height": 221,
  "title": {"text": "Acute mTBI", "orient": "bottom", "frame": "group", "dx": 6, "offset": 2, "font": "Lato", "fontSize": 27, "fontWeight": "bold", "color": "black"},
  "layer": [
    {"data": {"name": "m"}, "transform": [{"filter": "datum.p == 'B'"}],
     "mark": {"type": "rect", "stroke": "#1a1a1a", "strokeWidth": 0.6},
     "encoding": {
       "x": {"field": "c", "type": "nominal", "scale": {"domain": ["PCC","LLP","RLP","MPFC","LITG","RITF","LPHG","RPHG","PM","LSMG","RSMG","LDLPFC","RDLPFC"], "paddingInner": 0, "paddingOuter": 0},
             "axis": {"orient": "top", "labelAngle": -90, "labelPadding": 5, "title": "B.", "titleX": -73, "titleY": -11, "titleAngle": 0, "titleAlign": "left", "titleBaseline": "alphabetic", "titleFont": "Lato", "titleFontSize": 37, "titleFontWeight": "bold", "titleColor": "black"}},
       "y": {"field": "r", "type": "nominal", "scale": {"domain": ["PCC","LLP","RLP","MPFC","LITG","RITF","LPHG","RPHG","PM","LSMG","RSMG","LDLPFC","RDLPFC"], "paddingInner": 0, "paddingOuter": 0}, "axis": {"title": null}},
       "color": {"field": "v", "type": "quantitative",
         "scale": {"domain": [-0.1, -0.0125, 0.075, 0.1625, 0.25, 0.3375, 0.425, 0.5125, 0.6], "range": ["#00007f","#0000ff","#0080ff","#00ffff","#40ff40","#ffff00","#ff8000","#ff0000","#7f0000"]},
         "legend": {"title": null, "orient": "none", "legendX": 589, "legendY": 122, "direction": "vertical", "gradientLength": 300, "gradientThickness": 30, "gradientStrokeColor": "#333", "gradientStrokeWidth": 1, "values": [-0.0996, 0, 0.1, 0.2, 0.3, 0.4, 0.5, 0.5996], "format": ".1f", "labelExpr": "replace(datum.label, '\u2212', '-')", "labelFont": "Lato", "labelFontSize": 17.5, "labelFontWeight": "bold", "labelColor": "black", "labelOffset": 12}}
     }},
    {"data": {"name": "sep"}, "mark": {"type": "rule", "color": "white", "strokeWidth": 3},
     "encoding": {"x": {"field": "b", "type": "nominal", "bandPosition": 0}}},
    {"data": {"name": "sep"}, "mark": {"type": "rule", "color": "white", "strokeWidth": 3},
     "encoding": {"y": {"field": "b", "type": "nominal", "bandPosition": 0}}}
  ]
},
{
  "width": 230, "height": 221,
  "title": {"text": "Sub-acute mTBI", "orient": "bottom", "frame": "group", "dx": 6, "offset": 6, "font": "Lato", "fontSize": 27, "fontWeight": "bold", "color": "black"},
  "layer": [
    {"data": {"name": "m"}, "transform": [{"filter": "datum.p == 'C'"}],
     "mark": {"type": "rect", "stroke": "#1a1a1a", "strokeWidth": 0.6},
     "encoding": {
       "x": {"field": "c", "type": "nominal", "scale": {"domain": ["PCC","LLP","RLP","MPFC","LITG","RITF","LPHG","RPHG","PM","LSMG","RSMG","LDLPFC","RDLPFC"], "paddingInner": 0, "paddingOuter": 0},
             "axis": {"orient": "top", "labelAngle": -90, "labelPadding": 5, "title": "C.", "titleX": -76, "titleY": -11, "titleAngle": 0, "titleAlign": "left", "titleBaseline": "alphabetic", "titleFont": "Lato", "titleFontSize": 37, "titleFontWeight": "bold", "titleColor": "black"}},
       "y": {"field": "r", "type": "nominal", "scale": {"domain": ["PCC","LLP","RLP","MPFC","LITG","RITF","LPHG","RPHG","PM","LSMG","RSMG","LDLPFC","RDLPFC"], "paddingInner": 0, "paddingOuter": 0}, "axis": {"title": null}},
       "color": {"field": "v", "type": "quantitative",
         "scale": {"domain": [-0.1, -0.0125, 0.075, 0.1625, 0.25, 0.3375, 0.425, 0.5125, 0.6], "range": ["#00007f","#0000ff","#0080ff","#00ffff","#40ff40","#ffff00","#ff8000","#ff0000","#7f0000"]},
         "legend": {"title": null, "orient": "none", "legendX": 589, "legendY": 122, "direction": "vertical", "gradientLength": 300, "gradientThickness": 30, "gradientStrokeColor": "#333", "gradientStrokeWidth": 1, "values": [-0.0996, 0, 0.1, 0.2, 0.3, 0.4, 0.5, 0.5996], "format": ".1f", "labelExpr": "replace(datum.label, '\u2212', '-')", "labelFont": "Lato", "labelFontSize": 17.5, "labelFontWeight": "bold", "labelColor": "black", "labelOffset": 12}}
     }},
    {"data": {"name": "sep"}, "mark": {"type": "rule", "color": "white", "strokeWidth": 3},
     "encoding": {"x": {"field": "b", "type": "nominal", "bandPosition": 0}}},
    {"data": {"name": "sep"}, "mark": {"type": "rule", "color": "white", "strokeWidth": 3},
     "encoding": {"y": {"field": "b", "type": "nominal", "bandPosition": 0}}}
  ]
},
{
  "width": 230, "height": 221,
  "title": {"text": "Chronic mTBI", "orient": "bottom", "frame": "group", "dx": 6, "offset": 6, "font": "Lato", "fontSize": 27, "fontWeight": "bold", "color": "black"},
  "layer": [
    {"data": {"name": "m"}, "transform": [{"filter": "datum.p == 'D'"}],
     "mark": {"type": "rect", "stroke": "#1a1a1a", "strokeWidth": 0.6},
     "encoding": {
       "x": {"field": "c", "type": "nominal", "scale": {"domain": ["PCC","LLP","RLP","MPFC","LITG","RITF","LPHG","RPHG","PM","LSMG","RSMG","LDLPFC","RDLPFC"], "paddingInner": 0, "paddingOuter": 0},
             "axis": {"orient": "top", "labelAngle": -90, "labelPadding": 5, "title": "D.", "titleX": -70, "titleY": -8, "titleAngle": 0, "titleAlign": "left", "titleBaseline": "alphabetic", "titleFont": "Lato", "titleFontSize": 37, "titleFontWeight": "bold", "titleColor": "black"}},
       "y": {"field": "r", "type": "nominal", "scale": {"domain": ["PCC","LLP","RLP","MPFC","LITG","RITF","LPHG","RPHG","PM","LSMG","RSMG","LDLPFC","RDLPFC"], "paddingInner": 0, "paddingOuter": 0}, "axis": {"title": null}},
       "color": {"field": "v", "type": "quantitative",
         "scale": {"domain": [-0.1, -0.0125, 0.075, 0.1625, 0.25, 0.3375, 0.425, 0.5125, 0.6], "range": ["#00007f","#0000ff","#0080ff","#00ffff","#40ff40","#ffff00","#ff8000","#ff0000","#7f0000"]},
         "legend": {"title": null, "orient": "none", "legendX": 589, "legendY": 122, "direction": "vertical", "gradientLength": 300, "gradientThickness": 30, "gradientStrokeColor": "#333", "gradientStrokeWidth": 1, "values": [-0.0996, 0, 0.1, 0.2, 0.3, 0.4, 0.5, 0.5996], "format": ".1f", "labelExpr": "replace(datum.label, '\u2212', '-')", "labelFont": "Lato", "labelFontSize": 17.5, "labelFontWeight": "bold", "labelColor": "black", "labelOffset": 12}}
     }},
    {"data": {"name": "sep"}, "mark": {"type": "rule", "color": "white", "strokeWidth": 3},
     "encoding": {"x": {"field": "b", "type": "nominal", "bandPosition": 0}}},
    {"data": {"name": "sep"}, "mark": {"type": "rule", "color": "white", "strokeWidth": 3},
     "encoding": {"y": {"field": "b", "type": "nominal", "bandPosition": 0}}}
  ]
}
]
}
